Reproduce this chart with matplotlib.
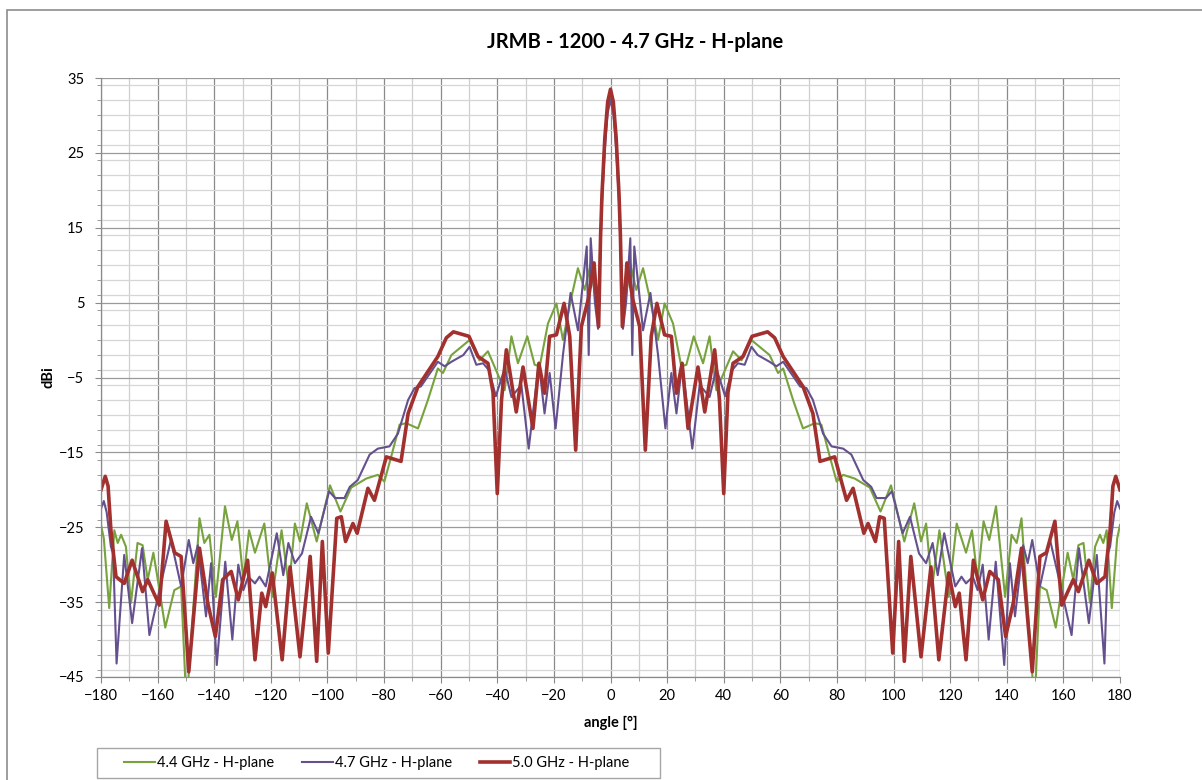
import numpy as np
import matplotlib
matplotlib.use("Agg")
import matplotlib.pyplot as plt
from matplotlib.patches import Rectangle
from matplotlib.ticker import MultipleLocator

plt.rcParams['font.family'] = ['Lato', 'DejaVu Sans']

# ---- data (angle in degrees, gain in dBi) ----
green_angle = [-180, -179, -177.1, -175.3, -174.1, -172.9, -171.2, -169.4, -167.1, -165.3,
               -163.5, -161.5, -159.5, -157.3, -154.1, -151.7, -149.8, -145.2, -143.5, -141.7,
               -139.4, -136.2, -133.8, -131.8, -129.7, -127.7, -125.6, -122.3, -119.5, -116.2,
               -113.6, -111.5, -109.7, -107.3, -103.8, -99.1, -95.4, -91.6, -86.3, -82.2,
               -79.9, -77.5, -74.5, -72.2, -68, -64.5, -61, -59.2, -56.2, -49.8,
               -46.3, -43.3, -37.4, -35, -32.7, -29.4, -26.8, -25, -22.1, -19.1,
               -16.8, -14, -11.5, -9.1, -7.0, -5.5, -4.5, -3.5, -3, -2, -1, 0,
               1, 2, 3, 3.5, 4.5, 5.5, 7.0, 9.1, 11.5, 14, 16.8,
               19.1, 22.1, 25, 26.8, 29.4, 32.7, 35, 37.4, 43.3, 46.3,
               49.8, 56.2, 59.2, 61, 64.5, 68, 72.2, 74.5, 77.5, 79.9,
               82.2, 86.3, 91.6, 95.4, 99.1, 103.8, 107.3, 109.7, 111.5, 113.6,
               116.2, 119.5, 122.3, 125.6, 127.7, 129.7, 131.8, 133.8, 136.2, 139.4,
               141.7, 143.5, 145.2, 149.8, 151.7, 154.1, 157.3, 159.5, 161.5, 163.5,
               165.3, 167.1, 169.4, 171.2, 172.9, 174.1, 175.3, 177.1, 179, 180]
green_dbi = [-24.7, -26.5, -35.8, -25.4, -27.1, -26.0, -27.6, -35.1, -27.1, -27.4,
             -32.0, -28.4, -33.0, -38.4, -33.4, -32.9, -49.0, -23.8, -27.1, -26.0,
             -34.3, -22.2, -26.7, -24.2, -32.0, -25.4, -28.4, -24.5, -34.3, -25.4,
             -33.1, -24.5, -26.9, -21.8, -26.9, -19.4, -22.9, -19.7, -18.5, -18.0,
             -18.9, -15.6, -11.3, -11.1, -11.8, -8.0, -3.8, -4.4, -2.0, 0.0,
             -2.7, -1.5, -6.7, 0.5, -3.1, 0.5, -3.3, -3.5, 2.2, 4.9,
             0.0, 5.4, 9.6, 6.7, 10.2, 6.0, 3.0, 14.0, 19.5, 26.5, 31.0, 32.5,
             31.0, 26.5, 19.5, 14.0, 3.0, 6.0, 10.2, 6.7, 9.6, 5.4, 0.0,
             4.9, 2.2, -3.5, -3.3, 0.5, -3.1, 0.5, -6.7, -1.5, -2.7,
             0.0, -2.0, -4.4, -3.8, -8.0, -11.8, -11.1, -11.3, -15.6, -18.9,
             -18.0, -18.5, -19.7, -22.9, -19.4, -26.9, -21.8, -26.9, -24.5, -33.1,
             -25.4, -34.3, -24.5, -28.4, -25.4, -32.0, -24.2, -26.7, -22.2, -34.3,
             -26.0, -27.1, -23.8, -49.0, -32.9, -33.4, -38.4, -33.0, -28.4, -32.0,
             -27.4, -27.1, -35.1, -27.6, -26.0, -27.1, -25.4, -35.8, -26.5, -24.7]

purple_angle = [-180, -179, -178, -176.5, -175.7, -174.5, -171.8, -169, -165.5, -162.9,
                -158.8, -155.3, -151.7, -149, -147.4, -145.8, -142.9, -141.1, -139.1, -136.1,
                -133.6, -131.5, -129.7, -128, -125.6, -124, -121.8, -117.9, -115.6, -113.8,
                -111.5, -109, -105.8, -103.2, -99.4, -97.3, -94, -92.1, -89.3, -85.1,
                -82.2, -78.1, -75.1, -71.5, -69.2, -67, -61, -58.6, -56.2, -52,
                -49.8, -47.4, -45, -43, -40.5, -37.4, -35, -31.5, -28.9, -25.3,
                -23.3, -21.5, -19.4, -16.8, -14.1, -11.5, -8.4, -7.7, -7.0, -5.5,
                -4.4, -3.5, -3, -2, -1, 0,
                1, 2, 3, 3.5, 4.4,
                5.5, 7.0, 7.7, 8.4, 11.5, 14.1, 16.8, 19.4, 21.5, 23.3,
                25.3, 28.9, 31.5, 35, 37.4, 40.5, 43, 45, 47.4, 49.8,
                52, 56.2, 58.6, 61, 67, 69.2, 71.5, 75.1, 78.1, 82.2,
                85.1, 89.3, 92.1, 94, 97.3, 99.4, 103.2, 105.8, 109, 111.5,
                113.8, 115.6, 117.9, 121.8, 124, 125.6, 128, 129.7, 131.5, 133.6,
                136.1, 139.1, 141.1, 142.9, 145.8, 147.4, 149, 151.7, 155.3, 158.8,
                162.9, 165.5, 169, 171.8, 174.5, 175.7, 176.5, 178, 179, 180]
purple_dbi = [-22.5, -21.5, -23.0, -27.6, -28.5, -43.2, -28.7, -37.8, -27.8, -39.4,
              -32.5, -26.7, -32.9, -26.7, -29.8, -27.4, -36.9, -29.8, -43.4, -29.6,
              -40.0, -30.0, -33.4, -31.6, -32.5, -31.6, -32.9, -25.8, -31.4, -27.1,
              -29.8, -28.5, -23.6, -25.8, -20.2, -21.1, -21.1, -19.6, -18.7, -15.3,
              -14.5, -14.2, -12.5, -8.0, -6.4, -6.2, -2.9, -3.5, -2.9, -2.0,
              -0.9, -3.3, -3.1, -4.0, -7.5, -3.8, -7.6, -6.0, -14.5, -3.1,
              -9.8, -4.4, -11.8, -2.0, 6.3, 1.3, 12.5, -2.0, 13.6, 5.0,
              1.5, 13.0, 18.5, 25.5, 30.3, 32.1,
              30.3, 25.5, 18.5, 13.0, 1.5,
              5.0, 13.6, -2.0, 12.5, 1.3, 6.3, -2.0, -11.8, -4.4, -9.8,
              -3.1, -14.5, -6.0, -7.6, -3.8, -7.5, -4.0, -3.1, -3.3, -0.9,
              -2.0, -2.9, -3.5, -2.9, -6.2, -6.4, -8.0, -12.5, -14.2, -14.5,
              -15.3, -18.7, -19.6, -21.1, -21.1, -20.2, -25.8, -23.6, -28.5, -29.8,
              -27.1, -31.4, -25.8, -32.9, -31.6, -32.5, -31.6, -33.4, -30.0, -40.0,
              -29.6, -43.4, -29.8, -36.9, -27.4, -29.8, -26.7, -32.9, -26.7, -32.5,
              -39.4, -27.8, -37.8, -28.7, -43.2, -28.5, -27.6, -23.0, -21.5, -22.5]

red_angle = [-180, -178.5, -177.5, -176.5, -174.7, -171.8, -169, -165.3, -163.5, -159.4,
             -157, -154, -151.7, -149, -145.2, -142.3, -139.6, -137, -134, -131.5,
             -128.2, -125.6, -123.2, -121.8, -119.5, -116, -113.2, -109.7, -106.1, -103.8,
             -101.8, -99.7, -96.7, -95.1, -93.6, -91, -89.5, -85.7, -83.4, -79.2,
             -74, -71.5, -68, -61, -58, -55.5, -50, -46.8, -43.3, -41.5,
             -40, -38.5, -36.8, -33.3, -30.9, -27.4, -25.3, -23.3, -21.5, -19.1,
             -16.4, -14.4, -12.3, -10.3, -7.9, -5.8, -4.2, -3.5, -3, -2, -1, 0,
             1, 2, 3, 3.5, 4.2, 5.8, 7.9, 10.3, 12.3, 14.4,
             16.4, 19.1, 21.5, 23.3, 25.3, 27.4, 30.9, 33.3, 36.8, 38.5,
             40, 41.5, 43.3, 46.8, 50, 55.5, 58, 61, 68, 71.5,
             74, 79.2, 83.4, 85.7, 89.5, 91, 93.6, 95.1, 96.7, 99.7,
             101.8, 103.8, 106.1, 109.7, 113.2, 116, 119.5, 121.8, 123.2, 125.6,
             128.2, 131.5, 134, 137, 139.6, 142.3, 145.2, 149, 151.7, 154,
             157, 159.4, 163.5, 165.3, 169, 171.8, 174.7, 176.5, 177.5, 178.5, 180]
red_dbi = [-20.0, -18.2, -19.5, -25.4, -31.6, -32.5, -29.4, -33.6, -32.0, -35.4,
           -24.2, -28.4, -28.9, -44.3, -27.8, -35.1, -39.6, -32.0, -30.9, -34.7,
           -29.4, -42.7, -33.8, -35.6, -31.1, -42.7, -30.3, -42.3, -28.9, -42.9,
           -26.9, -41.8, -23.8, -23.6, -26.9, -24.5, -25.8, -19.8, -21.4, -15.6,
           -16.2, -9.8, -6.2, -2.2, 0.3, 1.1, 0.5, -2.2, -3.1, -7.0,
           -20.5, -8.0, -1.3, -9.6, -3.6, -11.8, -3.1, -7.1, 0.5, 0.7,
           4.9, 0.5, -14.7, 1.8, 5.4, 10.3, 1.8, 14.0, 19.5, 27.0, 31.8, 33.5,
           31.8, 27.0, 19.5, 14.0, 1.8, 10.3, 5.4, 1.8, -14.7, 0.5,
           4.9, 0.7, 0.5, -7.1, -3.1, -11.8, -3.6, -9.6, -1.3, -8.0,
           -20.5, -7.0, -3.1, -2.2, 0.5, 1.1, 0.3, -2.2, -6.2, -9.8,
           -16.2, -15.6, -21.4, -19.8, -25.8, -24.5, -26.9, -23.6, -23.8, -41.8,
           -26.9, -42.9, -28.9, -42.3, -30.3, -42.7, -31.1, -35.6, -33.8, -42.7,
           -29.4, -34.7, -30.9, -32.0, -39.6, -35.1, -27.8, -44.3, -28.9, -28.4,
           -24.2, -35.4, -32.0, -33.6, -29.4, -32.5, -31.6, -25.4, -19.5, -18.2, -20.0]

labels = ["4.4 GHz - H-plane", "4.7 GHz - H-plane", "5.0 GHz - H-plane"]

fig = plt.figure(figsize=(12.02, 7.80), dpi=100)
ax = fig.add_axes([101/1202, 1 - 677/780, (1120 - 101)/1202, (677 - 78)/780])

ax.plot(green_angle, green_dbi, color='#77a23d', lw=1.5, solid_joinstyle='round', label=labels[0])
ax.plot(purple_angle, purple_dbi, color='#64508f', lw=1.5, solid_joinstyle='round', label=labels[1])
ax.plot(red_angle, red_dbi, color='#a2302e', lw=2.6, solid_joinstyle='round', label=labels[2])

ax.set_xlim(-180, 180)
ax.set_ylim(-45, 35)
ax.xaxis.set_major_locator(MultipleLocator(20))
ax.xaxis.set_minor_locator(MultipleLocator(10))
ax.set_yticks(np.arange(-45, 36, 10))
ax.yaxis.set_minor_locator(MultipleLocator(2))

ax.grid(which='major', axis='x', color='#8a8a8a', lw=0.9)
ax.grid(which='minor', axis='x', color='#cfcfcf', lw=0.9)
ax.grid(which='major', axis='y', color='#9a9a9a', lw=0.9)
ax.grid(which='minor', axis='y', color='#d6d6d6', lw=0.9)
ax.set_axisbelow(True)

for s in ['top', 'right']:
    ax.spines[s].set_visible(False)
for s in ['left', 'bottom']:
    ax.spines[s].set_color('#8a8a8a')
    ax.spines[s].set_linewidth(0.9)

ax.tick_params(which='both', direction='out', color='#8a8a8a', labelsize=10.5, labelcolor='black')
ax.tick_params(which='major', length=4)
ax.tick_params(which='minor', length=3)
ax.tick_params(axis='x', pad=5)
ax.tick_params(axis='y', pad=8)

ax.set_xlabel("angle [°]", fontsize=10.5, fontweight='bold', labelpad=9)
ax.set_ylabel("dBi", fontsize=10.5, fontweight='bold', labelpad=2)
fig.text(635/1202, 1 - 42/780, "JRMB - 1200 - 4.7 GHz - H-plane", ha='center', va='center',
         fontsize=14.5, fontweight='bold')

fig.legend(loc='center', bbox_to_anchor=(377/1202, 1 - 763/780), ncol=3, fontsize=10.5,
           frameon=False, handlelength=2.1, handletextpad=0.15, columnspacing=1.9)
fig.patches.append(Rectangle((97/1202, 1 - 778/780), (660 - 97)/1202, 30/780,
                             transform=fig.transFigure, fill=False,
                             edgecolor='#a6a6a6', lw=1.0))

fig.patches.append(Rectangle((7/1202, -0.1), 1.5, 0.1 + 1 - 10/780, transform=fig.transFigure,
                             fill=False, edgecolor='#8c8c8c', lw=1.2))

fig.savefig("out.png", dpi=100)
